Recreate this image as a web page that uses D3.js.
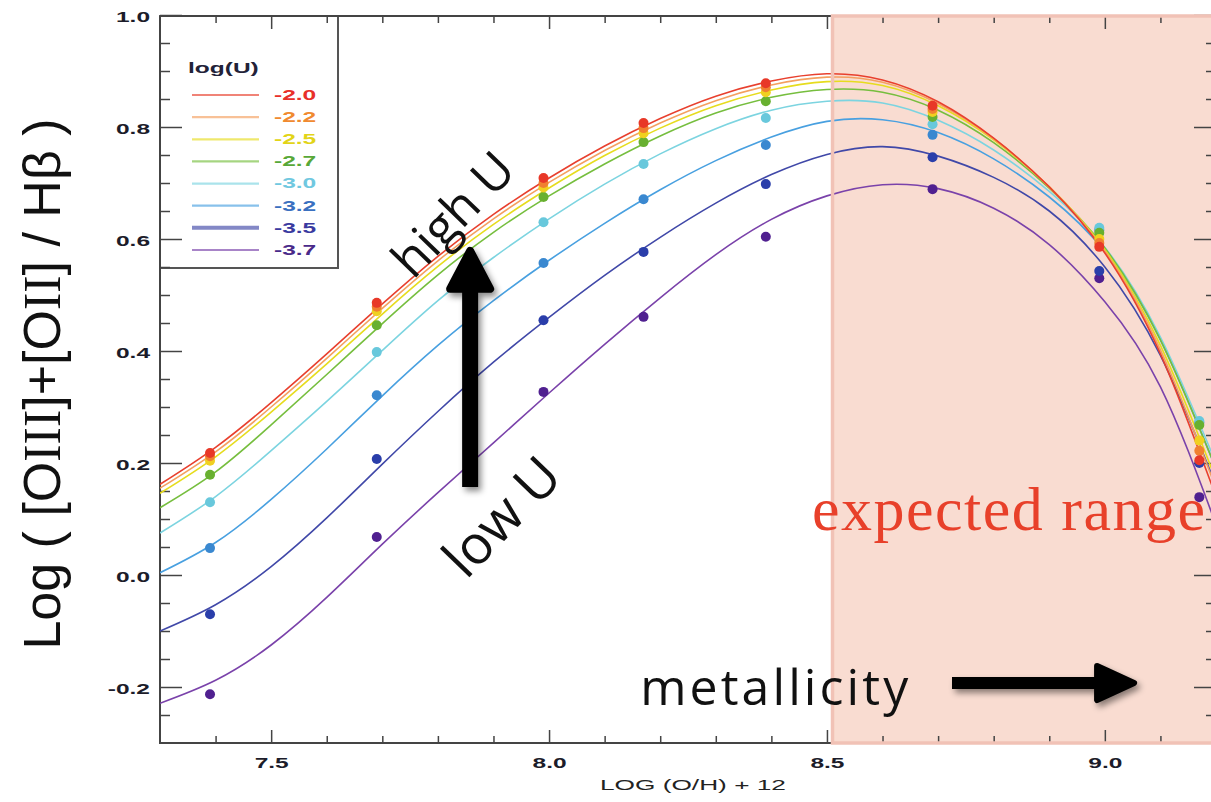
<!DOCTYPE html>
<html lang="en">
<head>
    <meta charset="UTF-8">
    <title>R23 vs metallicity</title>
    <style>
        body {
            margin: 0;
            background: #fff;
        }

        svg text {
            font-family: "Liberation Sans", Arial, sans-serif;
        }

        .tick-label {
            font-size: 14px;
            font-weight: bold;
            fill: #1c1c2a;
        }

        .curve {
            fill: none;
            stroke-width: 1.6px;
        }
    </style>
</head>
<body>
    <div id="chart"></div>
    <script src="https://cdn.jsdelivr.net/npm/d3@7/dist/d3.min.js"></script>
    <script>
        // Model grid, log(O/H)+12 of each point column
        const pointX = [7.39, 7.69, 7.99, 8.17, 8.39, 8.69, 8.99, 9.17];

        // Ionization parameter of each series
        const logU = ["-2.0", "-2.2", "-2.5", "-2.7", "-3.0", "-3.2", "-3.5", "-3.7"];

        // Model points, one array per log(U)
        const pts20 = [0.218, 0.486, 0.709, 0.807, 0.878, 0.838, 0.586, 0.205];
        const pts22 = [0.212, 0.479, 0.700, 0.798, 0.871, 0.832, 0.593, 0.222];
        const pts25 = [0.204, 0.471, 0.692, 0.789, 0.862, 0.827, 0.600, 0.240];
        const pts27 = [0.179, 0.446, 0.675, 0.773, 0.846, 0.818, 0.611, 0.268];
        const pts30 = [0.130, 0.398, 0.630, 0.734, 0.816, 0.805, 0.620, 0.275];
        const pts32 = [0.048, 0.321, 0.557, 0.671, 0.768, 0.786, 0.616, 0.272];
        const pts35 = [-0.070, 0.207, 0.455, 0.577, 0.698, 0.746, 0.543, 0.200];
        const pts37 = [-0.213, 0.068, 0.327, 0.461, 0.604, 0.689, 0.530, 0.139];

        const curveX = [7.3, 7.4, 7.5, 7.6, 7.7, 7.8, 7.9, 8.0, 8.1, 8.2,
                        8.3, 8.4, 8.5, 8.6, 8.7, 8.8, 8.9, 9.0, 9.1, 9.2];
        const fit20 = [0.162, 0.228, 0.308, 0.395, 0.484, 0.569, 0.644, 0.709, 0.766, 0.815,
                       0.855, 0.882, 0.895, 0.884, 0.845, 0.780, 0.693, 0.575, 0.395, 0.140];
        const fit22 = [0.155, 0.220, 0.300, 0.387, 0.476, 0.561, 0.636, 0.701, 0.758, 0.807,
                       0.847, 0.875, 0.889, 0.880, 0.842, 0.779, 0.693, 0.578, 0.402, 0.155];
        const fit25 = [0.146, 0.211, 0.291, 0.377, 0.466, 0.551, 0.626, 0.691, 0.749, 0.798,
                       0.838, 0.866, 0.881, 0.874, 0.838, 0.777, 0.693, 0.581, 0.410, 0.170];
        const fit27 = [0.120, 0.184, 0.268, 0.358, 0.449, 0.536, 0.612, 0.677, 0.734, 0.784,
                       0.825, 0.853, 0.867, 0.862, 0.830, 0.772, 0.691, 0.584, 0.420, 0.190];
        const fit30 = [0.075, 0.140, 0.222, 0.310, 0.401, 0.490, 0.567, 0.636, 0.698, 0.752,
                       0.797, 0.830, 0.846, 0.843, 0.812, 0.759, 0.685, 0.585, 0.425, 0.200];
        const fit32 = [0.004, 0.058, 0.135, 0.225, 0.320, 0.410, 0.490, 0.562, 0.628, 0.688,
                       0.740, 0.782, 0.810, 0.813, 0.790, 0.743, 0.675, 0.578, 0.420, 0.190];
        const fit35 = [-0.100, -0.053, 0.015, 0.102, 0.198, 0.292, 0.380, 0.460, 0.535, 0.603,
                       0.664, 0.715, 0.751, 0.765, 0.748, 0.710, 0.650, 0.550, 0.392, 0.160];
        const fit37 = [-0.229, -0.188, -0.125, -0.040, 0.055, 0.147, 0.236, 0.325, 0.412, 0.495,
                       0.572, 0.635, 0.677, 0.697, 0.690, 0.655, 0.590, 0.488, 0.336, 0.090];

        // Axis ticks
        const xTicks = [7.5, 8.0, 8.5, 9.0];
        const xMinor = [7.4, 7.6, 7.7, 7.8, 7.9, 8.1, 8.2, 8.3, 8.4, 8.6, 8.7, 8.8, 8.9, 9.1];
        const yTicks = [-0.2, 0.0, 0.2, 0.4, 0.6, 0.8, 1.0];
        const yMinor = [-0.25, -0.15, -0.1, -0.05, 0.05, 0.1, 0.15, 0.25, 0.3, 0.35, 0.45, 0.5,
                        0.55, 0.65, 0.7, 0.75, 0.85, 0.9, 0.95];

        // Shaded metallicity range
        const rangeStart = 8.51;

        const allPoints = [pts20, pts22, pts25, pts27, pts30, pts32, pts35, pts37];
        const allFits = [fit20, fit22, fit25, fit27, fit30, fit32, fit35, fit37];

        const lineColors = ["#e8402e", "#f4a060", "#e6dc1e", "#76be3e", "#7cd4e0", "#48a0e0", "#4048a8", "#7a42aa"];
        const dotColors = ["#e83828", "#f08030", "#f0d020", "#68b030", "#68c8dc", "#3a88d0", "#2a3eaa", "#502090"];
        const labelColors = ["#e8302a", "#f08a30", "#e2d418", "#58a838", "#70c8e0", "#3a70c0", "#3a3aa0", "#4a2a8a"];

        const width = 1211, height = 802;

        // The plot text in the original is stretched sideways
        const stretch = 1.75;
        function widen(sel) {
            sel.each(function () {
                const w = this.getComputedTextLength();
                d3.select(this)
                    .attr("textLength", w * stretch)
                    .attr("lengthAdjust", "spacingAndGlyphs");
            });
        }

        const svg = d3.select("#chart").append("svg")
            .attr("width", width)
            .attr("height", height);

        const x = d3.scaleLinear().domain([7.3, 9.2]).range([160, 1216]);
        const y = d3.scaleLinear().domain([-0.3, 1.0]).range([743, 15]);

        const pLeft = x(7.3), pRight = x(9.2), pTop = y(1.0) + 1, pBottom = y(-0.3);

        // Drop shadow for the hand drawn arrows
        const defs = svg.append("defs");
        const shadow = defs.append("filter").attr("id", "shadow")
            .attr("x", "-50%").attr("y", "-50%").attr("width", "200%").attr("height", "200%");
        shadow.append("feDropShadow")
            .attr("dx", 3).attr("dy", 4).attr("stdDeviation", 3)
            .attr("flood-color", "#000").attr("flood-opacity", 0.45);
        defs.append("clipPath").attr("id", "plot-clip")
            .append("rect")
            .attr("x", pLeft).attr("y", pTop)
            .attr("width", pRight - pLeft).attr("height", pBottom - pTop);

        // Pink band behind everything
        svg.append("rect")
            .attr("x", x(rangeStart))
            .attr("y", pTop)
            .attr("width", pRight - x(rangeStart))
            .attr("height", pBottom - pTop)
            .attr("fill", "#f9dcd1");

        // Legend box
        svg.append("rect")
            .attr("x", pLeft)
            .attr("y", pTop)
            .attr("width", 178)
            .attr("height", 252)
            .attr("fill", "#fff")
            .attr("stroke", "#555")
            .attr("stroke-width", 2);

        // Axes with inward ticks on all four sides
        const fmt = d => d.toFixed(1);
        const axisStyle = g => {
            g.select(".domain").remove();
            g.selectAll(".tick line").attr("stroke", "#444").attr("stroke-width", 1.5);
        };

        svg.append("g")
            .attr("transform", `translate(0,${pBottom})`)
            .call(d3.axisBottom(x).tickValues(xTicks).tickSize(-13).tickPadding(15).tickFormat(fmt))
            .call(axisStyle)
            .call(g => g.selectAll("text").attr("class", "tick-label").attr("font-size", null).call(widen));
        svg.append("g")
            .attr("transform", `translate(0,${pBottom})`)
            .call(d3.axisBottom(x).tickValues(xMinor).tickSize(-7).tickFormat(""))
            .call(axisStyle);
        svg.append("g")
            .attr("transform", `translate(0,${pTop})`)
            .call(d3.axisTop(x).tickValues(xTicks).tickSize(-13).tickFormat(""))
            .call(axisStyle);
        svg.append("g")
            .attr("transform", `translate(0,${pTop})`)
            .call(d3.axisTop(x).tickValues(xMinor).tickSize(-7).tickFormat(""))
            .call(axisStyle);

        svg.append("g")
            .attr("transform", `translate(${pLeft},0)`)
            .call(d3.axisLeft(y).tickValues(yTicks).tickSize(-22).tickPadding(10).tickFormat(fmt))
            .call(axisStyle)
            .call(g => g.selectAll("text").attr("class", "tick-label").attr("font-size", null)
                .attr("dy", "0.45em").call(widen));
        svg.append("g")
            .attr("transform", `translate(${pLeft},0)`)
            .call(d3.axisLeft(y).tickValues(yMinor).tickSize(-10).tickFormat(""))
            .call(axisStyle);
        svg.append("g")
            .attr("transform", `translate(${pRight},0)`)
            .call(d3.axisRight(y).tickValues(yTicks).tickSize(-22).tickFormat(""))
            .call(axisStyle);
        svg.append("g")
            .attr("transform", `translate(${pRight},0)`)
            .call(d3.axisRight(y).tickValues(yMinor).tickSize(-10).tickFormat(""))
            .call(axisStyle);

        // Frame lines
        svg.append("path")
            .attr("d", `M${pLeft},${pTop}V${pBottom}H${pRight}M${pLeft},${pTop}H${pRight}V${pBottom}`)
            .attr("fill", "none")
            .attr("stroke", "#444")
            .attr("stroke-width", 2);

        // Fitted curves
        const plot = svg.append("g").attr("clip-path", "url(#plot-clip)");
        const line = d3.line()
            .x((d, i) => x(curveX[i]))
            .y(d => y(d))
            .curve(d3.curveNatural);

        plot.selectAll(".curve")
            .data(allFits.slice().reverse())
            .enter().append("path")
            .attr("class", "curve")
            .attr("stroke", (d, i) => lineColors[7 - i])
            .attr("d", line);

        // Model points, lowest U first so the high U dots sit on top
        allPoints.slice().reverse().forEach((series, k) => {
            const i = 7 - k;
            plot.selectAll(".dot" + i)
                .data(series)
                .enter().append("circle")
                .attr("cx", (d, j) => x(pointX[j]))
                .attr("cy", d => y(d))
                .attr("r", 5)
                .attr("fill", dotColors[i]);
        });

        // Pink band border drawn over the axes
        svg.append("path")
            .attr("d", `M${pRight + 5},${pTop}H${x(rangeStart)}V${pBottom}H${pRight + 5}`)
            .attr("fill", "none")
            .attr("stroke", "#f1c2b6")
            .attr("stroke-width", 3.5);

        // Legend content
        const legendY = d3.scaleLinear().domain([0, 7]).range([95, 250]);
        svg.append("text")
            .attr("x", 188)
            .attr("y", 68)
            .attr("dy", "0.35em")
            .attr("font-size", 14)
            .attr("font-weight", "bold")
            .attr("fill", "#222238")
            .text("log(U)")
            .call(widen);

        const legend = svg.selectAll(".legend")
            .data(logU)
            .enter().append("g")
            .attr("transform", (d, i) => `translate(0,${legendY(i)})`);
        legend.append("line")
            .attr("x1", 192).attr("x2", 259)
            .attr("stroke", (d, i) => lineColors[i])
            .attr("stroke-opacity", 0.65)
            .attr("stroke-width", (d, i) => i === 6 ? 4 : 2.2);
        legend.append("text")
            .attr("x", 274)
            .attr("dy", "0.35em")
            .attr("font-size", 14)
            .attr("font-weight", "bold")
            .attr("fill", (d, i) => labelColors[i])
            .text(d => d)
            .call(widen);

        // Axis titles
        svg.append("text")
            .attr("x", 693)
            .attr("y", 785)
            .attr("dy", "0.35em")
            .attr("text-anchor", "middle")
            .attr("font-size", 15)
            .attr("fill", "#222")
            .text("LOG (O/H) + 12")
            .call(widen);

        const ytitle = svg.append("text")
            .attr("transform", "translate(60,384) rotate(-90)")
            .attr("text-anchor", "middle")
            .attr("font-size", 52)
            .attr("fill", "#111");
        ytitle.append("tspan").text("Log ( [O");
        ytitle.append("tspan").style("font-family", "'Liberation Serif', serif").text("III");
        ytitle.append("tspan").text("]+[O");
        ytitle.append("tspan").style("font-family", "'Liberation Serif', serif").text("II");
        ytitle.append("tspan").text("] / Hβ )");

        // Annotations
        svg.append("text")
            .attr("x", x(8.473))
            .attr("y", y(0.08))
            .style("font-family", "'Liberation Serif', serif")
            .attr("font-size", 62)
            .attr("fill", "#e8402a")
            .attr("textLength", 393)
            .text("expected range");

        svg.append("text")
            .attr("x", x(8.164))
            .attr("y", y(-0.232))
            .style("font-family", "'Open Sans', sans-serif")
            .attr("font-size", 50)
            .attr("fill", "#111")
            .attr("textLength", 268)
            .text("metallicity");

        svg.append("text")
            .attr("transform", `translate(${x(7.825)},${y(0.646)}) rotate(-46)`)
            .attr("text-anchor", "middle")
            .attr("dominant-baseline", "central")
            .style("font-family", "'Open Sans', sans-serif")
            .attr("font-size", 50)
            .attr("fill", "#111")
            .text("high U");

        svg.append("text")
            .attr("transform", `translate(${x(7.912)},${y(0.107)}) rotate(-46)`)
            .attr("text-anchor", "middle")
            .attr("dominant-baseline", "central")
            .style("font-family", "'Open Sans', sans-serif")
            .attr("font-size", 54)
            .attr("fill", "#111")
            .text("low U");

        // Vertical arrow (low U -> high U)
        const ax = x(7.858), aBottom = y(0.157), aTip = y(0.586);
        const arrowUp = svg.append("g").attr("filter", "url(#shadow)");
        arrowUp.append("line")
            .attr("x1", ax).attr("x2", ax)
            .attr("y1", aBottom).attr("y2", aTip + 20)
            .attr("stroke", "#000").attr("stroke-width", 16);
        arrowUp.append("path")
            .attr("d", `M${ax - 20},${aTip + 42}L${ax},${aTip + 4}L${ax + 20},${aTip + 42}Z`)
            .attr("fill", "#000")
            .attr("stroke", "#000")
            .attr("stroke-width", 8)
            .attr("stroke-linejoin", "round");

        // Horizontal arrow (metallicity)
        const hy = y(-0.193), hStart = x(8.725), hTip = x(9.058);
        const arrowRight = svg.append("g").attr("filter", "url(#shadow)");
        arrowRight.append("line")
            .attr("x1", hStart).attr("x2", hTip - 20)
            .attr("y1", hy).attr("y2", hy)
            .attr("stroke", "#000").attr("stroke-width", 12);
        arrowRight.append("path")
            .attr("d", `M${hTip - 40},${hy - 17}L${hTip - 3},${hy}L${hTip - 40},${hy + 17}Z`)
            .attr("fill", "#000")
            .attr("stroke", "#000")
            .attr("stroke-width", 6)
            .attr("stroke-linejoin", "round");
    </script>
</body>
</html>
